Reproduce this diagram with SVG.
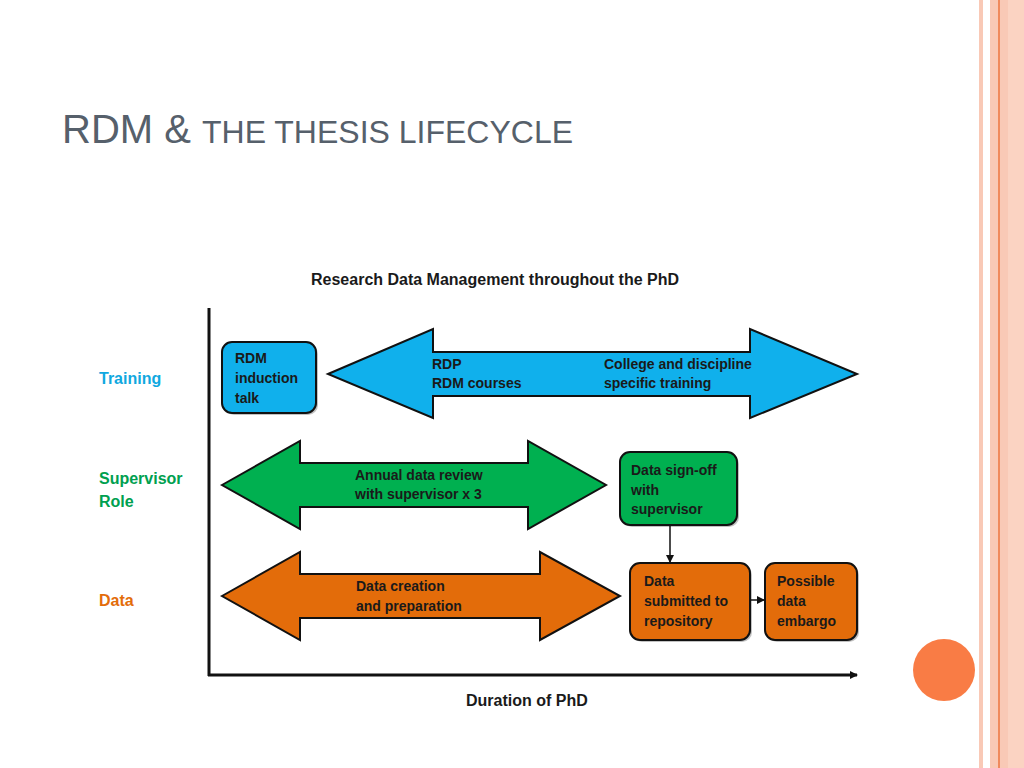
<svg xmlns="http://www.w3.org/2000/svg" width="1024" height="768" viewBox="0 0 1024 768">
<defs>
<style>
text{font-family:"Liberation Sans",Arial,sans-serif;font-weight:bold;font-size:14px;fill:#1a1a1a}
.shape{stroke:#111;stroke-width:2}
.blue{fill:#10b0ec}.green{fill:#00b050}.orange{fill:#e36c0a}
.sh{fill:#999;opacity:.6}
.lbl{font-size:16px}
</style>
<marker id="ah" markerWidth="8" markerHeight="8" refX="7" refY="4" orient="auto" markerUnits="userSpaceOnUse"><path d="M0,0 L8,4 L0,8 Z" fill="#111"/></marker>
</defs>
<rect width="1024" height="768" fill="#fff"/>
<rect x="979" y="0" width="4" height="768" fill="#f9c9b6"/>
<rect x="990" y="0" width="8" height="768" fill="#f9c9b6"/>
<rect x="998" y="0" width="2" height="768" fill="#f08a5d"/>
<rect x="1000" y="0" width="8" height="768" fill="#f9c9b6"/>
<rect x="1008" y="0" width="16" height="768" fill="#fbd3c2"/>
<circle cx="944" cy="670" r="31" fill="#f97c45"/>
<text x="62" y="143" style="font-weight:normal;font-size:40px;fill:#56606b">RDM &amp; <tspan style="font-size:32px">THE THESIS LIFECYCLE</tspan></text>
<text x="311" y="285" class="lbl">Research Data Management throughout the PhD</text>
<text x="466" y="706" class="lbl">Duration of PhD</text>
<text x="99" y="384" class="lbl" style="fill:#10a8e0">Training</text>
<text x="99" y="484" class="lbl" style="fill:#00a050">Supervisor</text>
<text x="99" y="507" class="lbl" style="fill:#00a050">Role</text>
<text x="99" y="606" class="lbl" style="fill:#e36c0a">Data</text>
<g id="axes">
<line x1="209" y1="308" x2="209" y2="676" stroke="#111" stroke-width="3"/>
<line x1="208" y1="675" x2="857" y2="675" stroke="#111" stroke-width="3" marker-end="url(#ah)"/>
</g>
<g id="training-arrow">
<path class="shape blue" d="M328,374 L433,329 L433,352 L750,352 L750,329 L857,374 L750,418 L750,396 L433,396 L433,418 Z"/>
<text x="432" y="369">RDP</text><text x="432" y="388">RDM courses</text>
<text x="604" y="369">College and discipline</text><text x="604" y="388">specific training</text>
</g>
<g id="rdm-induction">
<rect class="sh" x="224" y="344" width="94" height="71" rx="10"/>
<rect class="shape blue" x="222" y="342" width="94" height="71" rx="10"/>
<text x="235" y="363">RDM</text><text x="235" y="383">induction</text><text x="235" y="403">talk</text>
</g>
<g id="supervisor-arrow">
<path class="shape green" d="M222,485 L300,441 L300,463 L528,463 L528,441 L606,485 L528,529 L528,507 L300,507 L300,529 Z"/>
<text x="355" y="480">Annual data review</text><text x="355" y="499">with supervisor x 3</text>
</g>
<g id="data-signoff">
<rect class="sh" x="622" y="454" width="117" height="73" rx="10"/>
<rect class="shape green" x="620" y="452" width="117" height="73" rx="10"/>
<text x="631" y="475">Data sign-off</text><text x="631" y="495">with</text><text x="631" y="514">supervisor</text>
</g>
<g id="data-arrow">
<path class="shape orange" d="M222,596 L300,552 L300,574 L540,574 L540,552 L620,596 L540,640 L540,618 L300,618 L300,640 Z"/>
<text x="356" y="591">Data creation</text><text x="356" y="611">and preparation</text>
</g>
<g id="data-submitted">
<rect class="sh" x="632" y="565" width="120" height="77" rx="10"/>
<rect class="shape orange" x="630" y="563" width="120" height="77" rx="10"/>
<text x="644" y="586">Data</text><text x="644" y="606">submitted to</text><text x="644" y="626">repository</text>
</g>
<g id="embargo">
<rect class="sh" x="767" y="565" width="92" height="77" rx="10"/>
<rect class="shape orange" x="765" y="563" width="92" height="77" rx="10"/>
<text x="777" y="586">Possible</text><text x="777" y="606">data</text><text x="777" y="626">embargo</text>
</g>
<g id="connectors" stroke="#111" stroke-width="1.5" fill="none">
<line x1="670" y1="526" x2="670" y2="562" marker-end="url(#ah)"/>
<line x1="751" y1="600" x2="764" y2="600" marker-end="url(#ah)"/>
</g>
</svg>
